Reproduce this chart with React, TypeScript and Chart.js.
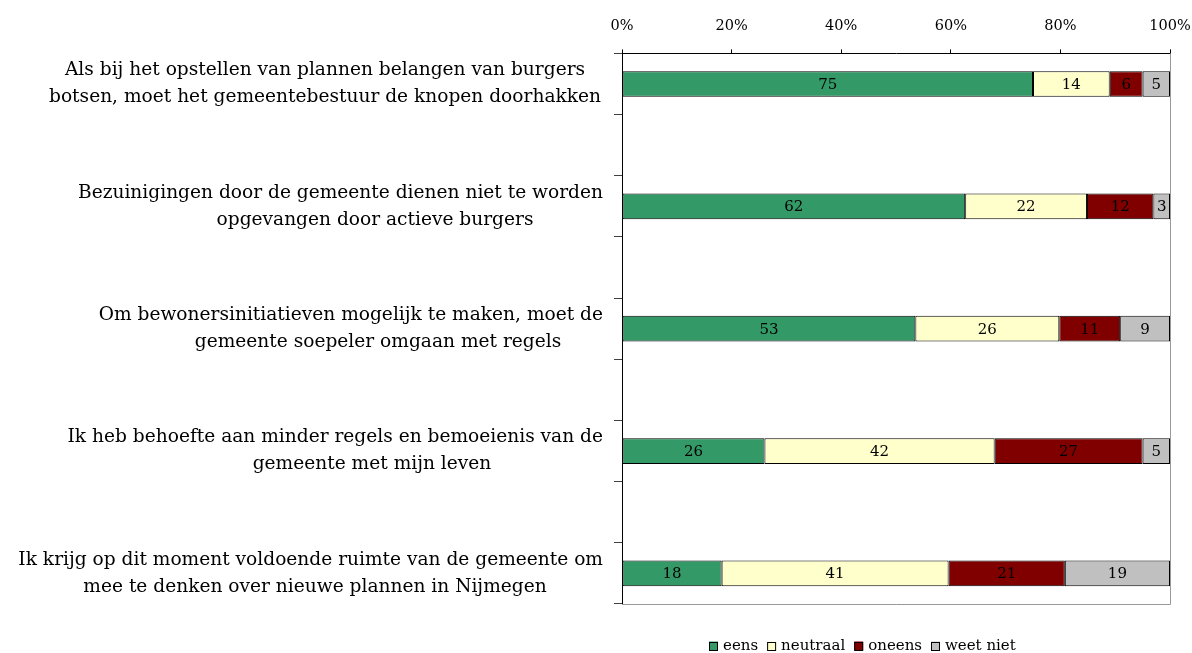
import React, { useEffect, useRef } from 'react';
import { Chart, registerables } from 'chart.js';

Chart.register(...registerables);

// ---------- data ----------
const questions: string[][] = [
  ['Als bij het opstellen van plannen belangen van burgers', 'botsen, moet het gemeentebestuur de knopen doorhakken'],
  ['Bezuinigingen door de gemeente dienen niet te worden', 'opgevangen door actieve burgers'],
  ['Om bewonersinitiatieven mogelijk te maken, moet de', 'gemeente soepeler omgaan met regels'],
  ['Ik heb behoefte aan minder regels en bemoeienis van de', 'gemeente met mijn leven'],
  ['Ik krijg op dit moment voldoende ruimte van de gemeente om', 'mee te denken over nieuwe plannen in Nijmegen'],
];
const seriesNames = ['eens', 'neutraal', 'oneens', 'weet niet'];
const eens = [75, 62, 53, 26, 18];
const neutraal = [14, 22, 26, 42, 41];
const oneens = [6, 12, 11, 27, 21];
const weetNiet = [5, 3, 9, 5, 19];
const xTickValues = [0, 20, 40, 60, 80, 100];

// ---------- style / layout ----------
const seriesColors = ['#339966', '#FFFFCC', '#800000', '#C0C0C0'];
const FONT = "'DejaVu Serif', 'Liberation Serif', serif";
const labelCenters = [325, 375, 378, 372, 315];
const labelRightLimit = 603;
const labelLineGap = 27;

const seriesValues = [eens, neutraal, oneens, weetNiet];
const totals = questions.map((_, i) => seriesValues.reduce((s, arr) => s + arr[i], 0));
// each question occupies every other row (blank spacer rows in between)
const slotCount = questions.length * 2 - 1;
const slotLabels: string[] = Array.from({ length: slotCount }, (_, s) => (s % 2 === 0 ? questions[s / 2].join(' ') : ''));

const toSlots = (arr: (number | null)[]) =>
  Array.from({ length: slotCount }, (_, s) => (s % 2 === 0 ? arr[s / 2] : null));

const yLabelPlugin = {
  id: 'yLabels',
  afterDraw(chart: any) {
    const ctx = chart.ctx as CanvasRenderingContext2D;
    const yScale = chart.scales.y;
    ctx.save();
    ctx.font = `18.6px ${FONT}`;
    ctx.fillStyle = '#000';
    ctx.textBaseline = 'middle';
    ctx.textAlign = 'left';
    questions.forEach((lines, qi) => {
      const yc = yScale.getPixelForValue(qi * 2);
      const n = lines.length;
      lines.forEach((line, li) => {
        const w = ctx.measureText(line).width;
        let x0 = labelCenters[qi] - w / 2;
        if (x0 + w > labelRightLimit) x0 = labelRightLimit - w;
        const y = yc + (li - (n - 1) / 2) * labelLineGap;
        ctx.fillText(line, x0, y);
      });
    });
    ctx.restore();
  },
};

const dataLabelPlugin = {
  id: 'dataLabels',
  afterDatasetsDraw(chart: any) {
    const ctx = chart.ctx as CanvasRenderingContext2D;
    ctx.save();
    ctx.font = `15px ${FONT}`;
    ctx.fillStyle = '#000';
    ctx.textAlign = 'center';
    ctx.textBaseline = 'middle';
    chart.data.datasets.forEach((ds: any, di: number) => {
      const meta = chart.getDatasetMeta(di);
      meta.data.forEach((el: any, i: number) => {
        const raw = ds.rawValues[i];
        if (raw == null) return;
        const p = el.getProps(['x', 'y', 'base'], true);
        ctx.fillText(String(raw), (p.x + p.base) / 2, p.y + 1);
      });
    });
    ctx.restore();
  },
};

const frameAndLegendPlugin = {
  id: 'frameLegend',
  afterDraw(chart: any) {
    const ctx = chart.ctx as CanvasRenderingContext2D;
    const a = chart.chartArea;
    ctx.save();
    // right & bottom plot border
    ctx.strokeStyle = '#999999';
    ctx.lineWidth = 1;
    ctx.beginPath();
    ctx.moveTo(Math.round(a.right) + 0.5, a.top);
    ctx.lineTo(Math.round(a.right) + 0.5, Math.round(a.bottom) + 0.5);
    ctx.lineTo(a.left, Math.round(a.bottom) + 0.5);
    ctx.stroke();

    // legend
    ctx.font = `15px ${FONT}`;
    ctx.textBaseline = 'middle';
    ctx.textAlign = 'left';
    const box = 9;
    const gapBoxText = 5;
    const gapItems = 9;
    const widths = chart.data.datasets.map((ds: any) => ctx.measureText(ds.label).width);
    const total = widths.reduce((s: number, w: number) => s + box + gapBoxText + w, 0) + gapItems * (widths.length - 1);
    const centerX = 862;
    const yc = 646;
    let x = Math.round(centerX - total / 2);
    chart.data.datasets.forEach((ds: any, i: number) => {
      ctx.fillStyle = ds.backgroundColor;
      ctx.fillRect(x, yc - box / 2, box, box);
      ctx.strokeStyle = '#000';
      ctx.strokeRect(x + 0.5, Math.round(yc - box / 2) + 0.5, box - 1, box - 1);
      ctx.fillStyle = '#000';
      ctx.fillText(ds.label, x + box + gapBoxText, yc);
      x += box + gapBoxText + widths[i] + gapItems;
    });
    ctx.restore();
  },
};

export default function App() {
  const canvasRef = useRef<HTMLCanvasElement | null>(null);

  useEffect(() => {
    document.body.style.margin = '0';
    const canvas = canvasRef.current!;
    const datasets = seriesNames.map((name, si) => ({
      label: name,
      data: toSlots(seriesValues[si].map((v, i) => (v / totals[i]) * 100)),
      rawValues: toSlots(seriesValues[si]),
      backgroundColor: seriesColors[si],
      borderColor: '#000000',
      borderWidth: 1,
      borderSkipped: false,
      barPercentage: 0.42,
      categoryPercentage: 1,
    }));

    const chart = new Chart(canvas, {
      type: 'bar',
      data: { labels: slotLabels, datasets: datasets as any },
      options: {
        indexAxis: 'y',
        animation: false,
        responsive: false,
        devicePixelRatio: 1,
        layout: { padding: { left: 614, right: 22, top: 4, bottom: 49 } },
        plugins: {
          legend: { display: false },
          tooltip: { enabled: false },
        },
        scales: {
          x: {
            position: 'top',
            stacked: true,
            min: 0,
            max: 100,
            afterBuildTicks: (scale: any) => {
              scale.ticks = xTickValues.map((v) => ({ value: v }));
            },
            afterFit: (scale: any) => {
              scale.paddingRight = 0;
              scale.paddingLeft = 0;
            },
            ticks: {
              callback: (v: any) => `${v}%`,
              font: { family: FONT, size: 14.5 },
              color: '#000',
              padding: 14,
              maxRotation: 0,
            },
            grid: { drawOnChartArea: false, tickLength: 4, color: '#000', drawTicks: true },
            border: { color: '#000', width: 1 },
          },
          y: {
            stacked: true,
            offset: true,
            ticks: { display: false },
            grid: { offset: true, drawOnChartArea: false, tickLength: 8, color: '#404040' },
            border: { color: '#000', width: 1 },
          },
        },
      },
      plugins: [yLabelPlugin, dataLabelPlugin, frameAndLegendPlugin],
    });
    return () => chart.destroy();
  }, []);

  return (
    <div style={{ width: 1192, height: 653, background: '#fff' }}>
      <canvas ref={canvasRef} width={1192} height={653} style={{ display: 'block' }} />
    </div>
  );
}
